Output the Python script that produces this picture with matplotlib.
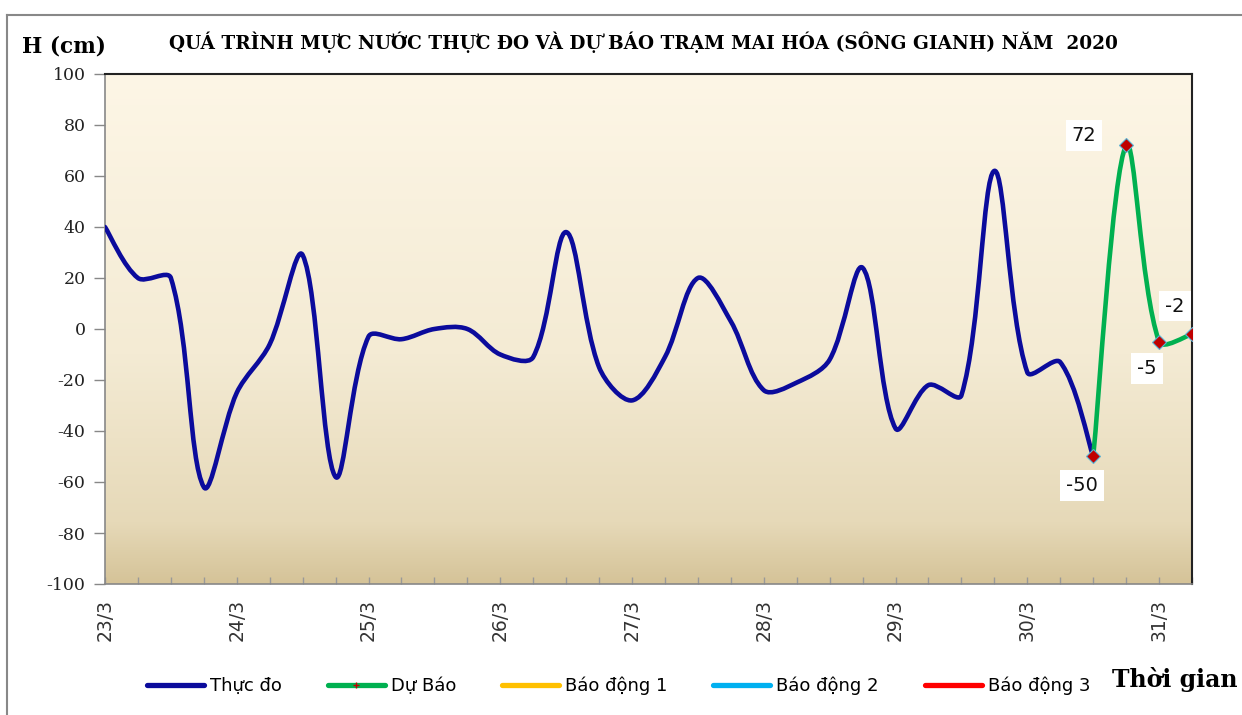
import numpy as np
import pandas as pd
import matplotlib
matplotlib.use("Agg")
import matplotlib.pyplot as plt
import matplotlib.dates as mdates
from matplotlib.path import Path
from matplotlib.patches import PathPatch
from matplotlib.lines import Line2D
from matplotlib.colors import LinearSegmentedColormap

plt.rcParams["axes.unicode_minus"] = False

# water level (cm), every 6 hours from 23/3 00h
observed = [40, 20, 20, -62, -25, -6, 29, -58, -3, -4, 0, 0, -10, -11, 38, -15,
            -28, -11, 20, 3, -24, -21, -12, 24, -39, -22, -26, 62, -17, -13, -50]
forecast = [-50, 72, -5, -2]
obs_times = pd.date_range("2020-03-23 00:00", periods=len(observed), freq="6h")
fc_times = pd.date_range("2020-03-30 12:00", periods=len(forecast), freq="6h")
day_labels = ["23/3", "24/3", "25/3", "26/3", "27/3", "28/3", "29/3", "30/3", "31/3"]
legend_labels = ["Thực đo", "Dự Báo", "Báo động 1", "Báo động 2", "Báo động 3"]

BLUE = "#0b0b9c"
GREEN = "#00b050"
COLORS = [BLUE, GREEN, "#ffc000", "#00b0f0", "#ff0000"]


def smooth_path(ax, x, y):
    # smoothed line like excel: bezier, control points weighted by segment length
    # (worked out in screen space, then mapped back to data)
    pts = ax.transData.transform(np.column_stack([x, y]))
    n = len(pts)
    seg = np.hypot(*np.diff(pts, axis=0).T)
    verts = [pts[0]]
    for i in range(n - 1):
        i0 = max(i - 1, 0)
        i3 = min(i + 2, n - 1)
        la = seg[i0] if i > 0 else seg[i]
        lb = seg[i + 1] if i + 1 < n - 1 else seg[i]
        f1 = seg[i] / (la + seg[i]) / 3
        f2 = seg[i] / (seg[i] + lb) / 3
        c1 = pts[i] + (pts[i + 1] - pts[i0]) * f1
        c2 = pts[i + 1] - (pts[i3] - pts[i]) * f2
        verts += [c1, c2, pts[i + 1]]
    verts = ax.transData.inverted().transform(np.array(verts))
    codes = [Path.MOVETO] + [Path.CURVE4] * (len(verts) - 1)
    return Path(verts, codes)


fig = plt.figure(figsize=(12.42, 7.15), dpi=100)
W, H = 1242, 715
ax = fig.add_axes([105 / W, 1 - 584 / H, (1192 - 105) / W, (584 - 74) / H])

xo = mdates.date2num(obs_times)
xf = mdates.date2num(fc_times)
x0, x1 = xo[0], xf[-1]
ax.set_xlim(x0, x1)
ax.set_ylim(-100, 100)

# background gradient
cmap = LinearSegmentedColormap.from_list(
    "bg", [(0, "#d5c398"), (0.12, "#e6d9b8"), (0.45, "#f4ebd4"), (1, "#fdf6e6")])
grad = np.linspace(0, 1, 256).reshape(-1, 1)
ax.imshow(grad, extent=[x0, x1, -100, 100], aspect="auto", cmap=cmap,
          origin="lower", zorder=0)

ax.add_patch(PathPatch(smooth_path(ax, xo, observed), facecolor="none", edgecolor=BLUE,
                       lw=3.3, capstyle="round", joinstyle="round", zorder=3))
ax.add_patch(PathPatch(smooth_path(ax, xf, forecast), facecolor="none", edgecolor=GREEN,
                       lw=3.3, capstyle="round", joinstyle="round", zorder=4))
ax.plot(xf, forecast, ls="none", marker="D", ms=7.5, mfc="#c00000",
        mec="#5ab4d6", mew=0.8, zorder=5)

offsets = [(-11, -29), (-42, 10), (-12, -27), (-17, 28)]
for xv, yv, (dx, dy) in zip(xf, forecast, offsets):
    ax.annotate(str(yv), (xv, yv), xytext=(dx, dy), textcoords="offset pixels",
                ha="center", va="center", fontsize=14, family="DejaVu Sans",
                color="#111111", zorder=6,
                bbox=dict(boxstyle="square,pad=0.3", fc="white", ec="none"))

ax.set_xlim(x0, x1)
ax.set_ylim(-100, 100)

ax.set_yticks(np.arange(-100, 101, 20))
ax.tick_params(axis="y", direction="out", length=8, width=1, color="#888888",
               labelsize=12.5, labelcolor="#222222", pad=6)
for lab in ax.get_yticklabels():
    lab.set_family("DejaVu Serif")

day_ticks = mdates.date2num(pd.date_range("2020-03-23", periods=len(day_labels), freq="D"))
ax.set_xticks(day_ticks)
ax.set_xticklabels(day_labels, rotation=90, fontsize=13.5, family="DejaVu Sans",
                   color="#333333")
ax.xaxis.set_minor_locator(mdates.HourLocator(byhour=[6, 12, 18]))
ax.tick_params(axis="x", which="both", direction="in", length=5, width=1,
               color="#999999", pad=11)

for side in ["left", "bottom"]:
    ax.spines[side].set_color("#888888")
    ax.spines[side].set_linewidth(1.2)
for side in ["top", "right"]:
    ax.spines[side].set_color("#222222")
    ax.spines[side].set_linewidth(1.5)

handles = [Line2D([], [], color=c, lw=3.8, solid_capstyle="round") for c in COLORS]
handles[1] = Line2D([], [], color=GREEN, lw=3.8, marker="+", ms=5, mec="#c00000",
                    solid_capstyle="round")
fig.legend(handles, legend_labels, loc="center left", bbox_to_anchor=(140 / W, 1 - 686 / H),
           ncol=5, frameon=False, prop={"family": "DejaVu Sans", "size": 13},
           handlelength=3.15, handletextpad=0.33, columnspacing=2.55, borderaxespad=0)

fig.text(22 / W, 1 - 46 / H, "H (cm)", family="DejaVu Serif", weight="bold",
         fontsize=15.5, ha="left", va="center")
fig.text(643 / W, 1 - 42 / H,
         "QUÁ TRÌNH MỰC NƯỚC THỰC ĐO VÀ DỰ BÁO TRẠM MAI HÓA (SÔNG GIANH) NĂM  2020",
         family="DejaVu Serif", weight="bold", fontsize=13.3, ha="center", va="center")
fig.text(1238 / W, 1 - 679 / H, "Thời gian", family="DejaVu Serif", weight="bold",
         fontsize=17, ha="right", va="center")

# outer frame
fig.add_artist(Line2D([7 / W, 1], [1 - 15 / H, 1 - 15 / H], color="#888888", lw=1.5))
fig.add_artist(Line2D([7 / W, 7 / W], [0, 1 - 15 / H], color="#888888", lw=1.5))

fig.savefig("out.png", dpi=100)
